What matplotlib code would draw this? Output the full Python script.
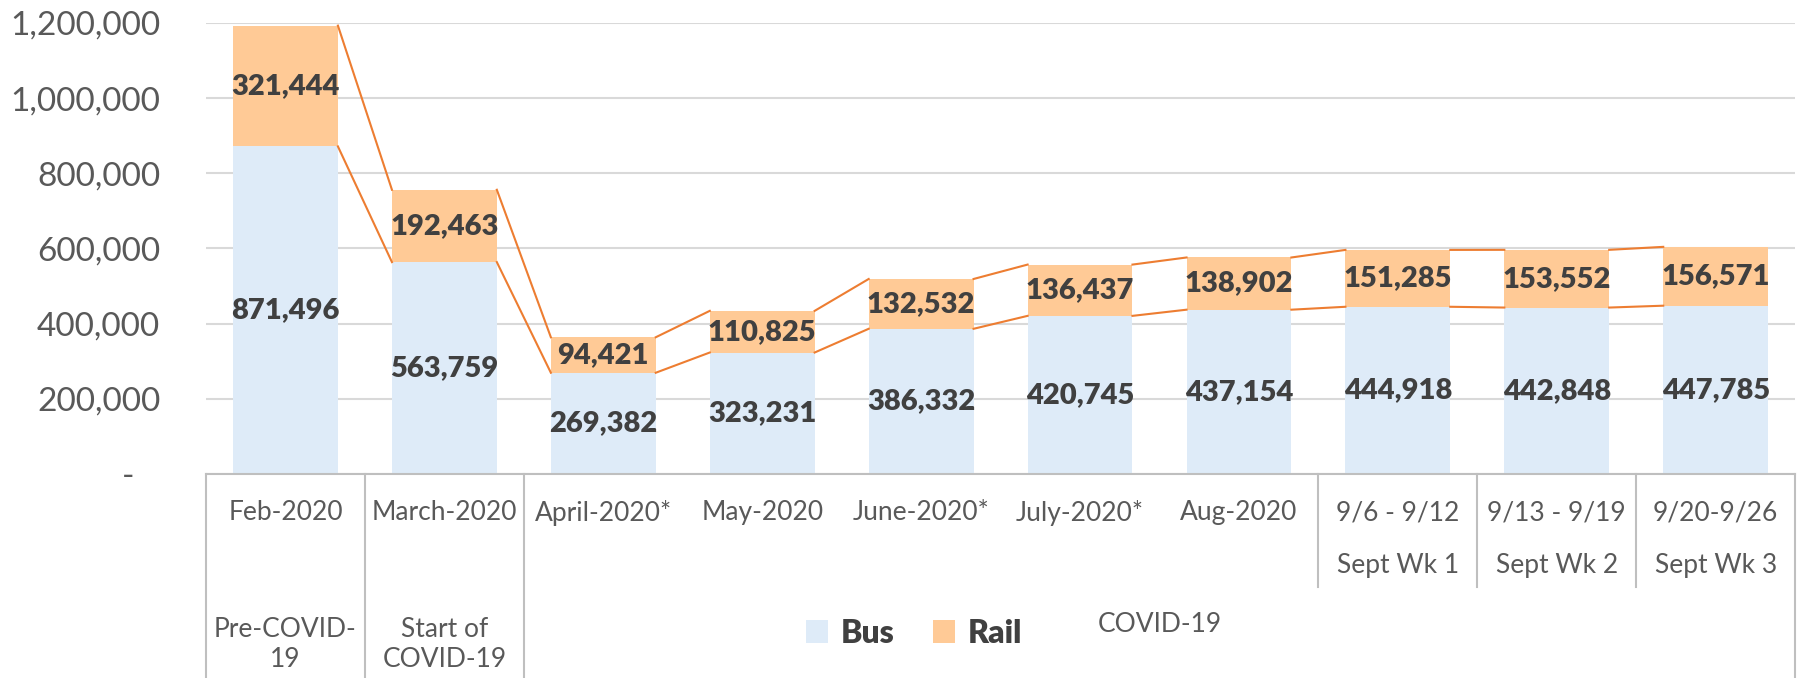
#Stacked bus/rail ridership bars with series lines and a multi-level category axis.
import matplotlib
matplotlib.use("Agg")
import matplotlib.pyplot as plt
from matplotlib.transforms import blended_transform_factory

months = ["Feb-2020", "March-2020", "April-2020*", "May-2020", "June-2020*",
          "July-2020*", "Aug-2020", "9/6 - 9/12", "9/13 - 9/19", "9/20-9/26"]
weeks = ["", "", "", "", "", "", "", "Sept Wk 1", "Sept Wk 2", "Sept Wk 3"]
phases = ["Pre-COVID-\n19", "Start of\nCOVID-19", "COVID-19"]
phase_span = [(0, 0), (1, 1), (2, 9)]

bus = [871496, 563759, 269382, 323231, 386332, 420745, 437154, 444918, 442848, 447785]
rail = [321444, 192463, 94421, 110825, 132532, 136437, 138902, 151285, 153552, 156571]
yticks = [0, 200000, 400000, 600000, 800000, 1000000, 1200000]

plt.rcParams['font.family'] = ['Lato', 'DejaVu Sans']

bus_color = '#DEEBF8'
rail_color = '#FFCA96'
line_color = '#ED7D31'
text_dark = '#404040'
text_gray = '#595959'
frame_gray = '#BFBFBF'

fig = plt.figure(figsize=(18.12, 6.78), dpi=100)
ax = fig.add_axes([0.1137, 0.3009, 0.877, 0.6652])

x = list(range(len(months)))
w = 0.66
totals = [b + r for b, r in zip(bus, rail)]

b1 = ax.bar(x, bus, width=w, color=bus_color, label='Bus', zorder=2)
b2 = ax.bar(x, rail, width=w, bottom=bus, color=rail_color, label='Rail', zorder=2)

# series lines between neighbouring bars
for i in range(len(x) - 1):
    ax.plot([i + w / 2, i + 1 - w / 2], [bus[i], bus[i + 1]], color=line_color, lw=1.5, zorder=3)
    ax.plot([i + w / 2, i + 1 - w / 2], [totals[i], totals[i + 1]], color=line_color, lw=1.5, zorder=3)

ax.bar_label(b1, labels=[f'{v:,}' for v in bus], label_type='center',
             fontsize=21, fontweight='heavy', color=text_dark)
ax.bar_label(b2, labels=[f'{v:,}' for v in rail], label_type='center',
             fontsize=21, fontweight='heavy', color=text_dark)

ax.set_xlim(-0.5, len(x) - 0.5)
ax.set_ylim(0, 1200000)
ax.set_yticks(yticks)
ax.set_yticklabels(['-   '] + [f'{v:,}' for v in yticks[1:]])
ax.tick_params(axis='y', length=0, pad=33, labelsize=24, labelcolor=text_gray)
ax.set_xticks([])
ax.grid(axis='y', color='#D9D9D9', lw=1.5, zorder=0)
ax.set_axisbelow(True)
for s in ['top', 'right', 'left']:
    ax.spines[s].set_visible(False)
ax.spines['bottom'].set_color(frame_gray)
ax.spines['bottom'].set_linewidth(1.5)

# multi-level category axis drawn below the plot
trans = blended_transform_factory(ax.transData, fig.transFigure)
y_axis = 0.3009
for xb in [-0.5, 0.5, 1.5, 9.5]:
    ax.plot([xb, xb], [y_axis, 0], transform=trans, color=frame_gray, lw=1.5, clip_on=False)
for xb in [6.5, 7.5, 8.5]:
    ax.plot([xb, xb], [y_axis, 0.1342], transform=trans, color=frame_gray, lw=1.5, clip_on=False)

for i, m in enumerate(months):
    ax.text(i, 0.2434, m, transform=trans, ha='center', va='center', fontsize=19, color=text_gray)
    if weeks[i]:
        ax.text(i, 0.1652, weeks[i], transform=trans, ha='center', va='center', fontsize=19, color=text_gray)

for label, (a, b) in zip(phases, phase_span):
    if a == b:
        ax.text(a, 0.0487, label, transform=trans, ha='center', va='center',
                fontsize=19, color=text_gray, linespacing=1.25)
    else:
        ax.text((a + b) / 2, 0.0796, label, transform=trans, ha='center', va='center',
                fontsize=19, color=text_gray)

fig.legend(handles=[b1, b2], loc='center', bbox_to_anchor=(0.5044, 0.066), ncol=2, frameon=False,
           prop={'size': 23, 'weight': 'heavy'}, labelcolor=text_dark, handlelength=0.7,
           handleheight=0.7, handletextpad=0.4, columnspacing=1.2)

fig.savefig('out.png', dpi=100)
